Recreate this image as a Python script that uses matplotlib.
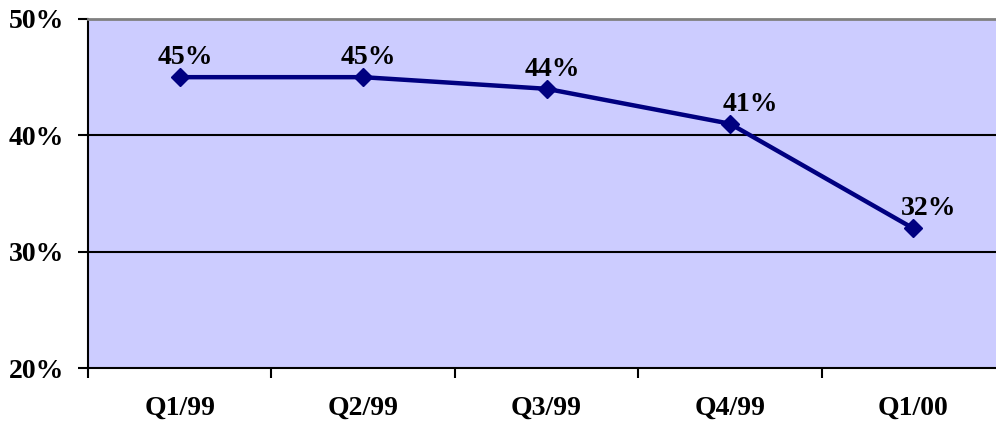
import numpy as np
import matplotlib.pyplot as plt
from matplotlib.ticker import FixedLocator

# data
quarters = ['Q1/99', 'Q2/99', 'Q3/99', 'Q4/99', 'Q1/00']
share = [45, 45, 44, 41, 32]
label_dx = [4, 4, 4, 15, 11]   # label nudges (points)

plt.rcParams['font.family'] = ['Liberation Serif', 'DejaVu Serif']
plt.rcParams['font.weight'] = 'bold'

fig = plt.figure(figsize=(9.96, 4.25), dpi=100)
ax = fig.add_axes([88 / 996, 57 / 425, 917 / 996, 349 / 425])
ax.set_facecolor('#CCCCFF')

x = np.arange(len(quarters))
ax.plot(x, share, color='#000080', lw=3.2, marker='D', ms=9.5, zorder=3)

for xi, v, dx in zip(x, share, label_dx):
    ax.annotate(f'{v}%', (xi, v), xytext=(dx, 9.5), textcoords='offset points',
                ha='center', va='baseline', fontsize=20, fontweight='bold')

ax.set_xlim(-0.5, len(quarters) - 0.5)
ax.set_ylim(20, 50)
ax.set_yticks([20, 30, 40, 50])
ax.set_yticklabels([f'{t}%' for t in [20, 30, 40, 50]])
for g in [30, 40]:
    ax.axhline(g, color='black', lw=1.5, zorder=1)

ax.xaxis.set_major_locator(FixedLocator(np.arange(-0.5, len(quarters), 1)))
ax.xaxis.set_major_formatter(plt.NullFormatter())
ax.xaxis.set_minor_locator(FixedLocator(x))
ax.set_xticklabels(quarters, minor=True)
ax.tick_params(axis='x', which='minor', length=0, pad=20, labelsize=20)
ax.tick_params(axis='x', which='major', length=7, width=1.5, direction='out')
ax.tick_params(axis='y', length=7, width=1.5, direction='out', labelsize=20, pad=10)

ax.spines['right'].set_visible(False)
ax.spines['top'].set_color('#808080')
ax.spines['top'].set_linewidth(2)
ax.spines['left'].set_linewidth(1.5)
ax.spines['bottom'].set_linewidth(1.5)

fig.savefig('out.png', dpi=100)
